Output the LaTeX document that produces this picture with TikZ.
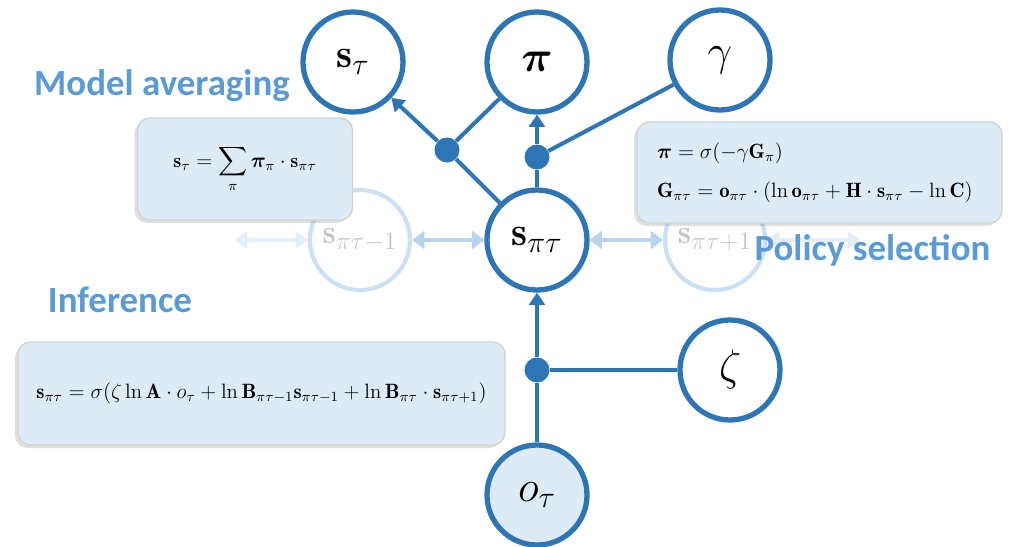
\documentclass[tikz,border=0pt]{standalone}
\usepackage{amsmath,amssymb,bm}
\usepackage{fontspec}
\newfontfamily\headfont{Carlito}
\usetikzlibrary{positioning,arrows.meta,shadows}
\definecolor{nodeblue}{HTML}{2E75B6}
\definecolor{headblue}{HTML}{5B9BD5}
\definecolor{boxblue}{HTML}{DDEBF7}
\definecolor{fadeblue}{HTML}{B8D3EC}
\definecolor{faintblue}{HTML}{E4EEF8}
\newcommand{\sv}{\mathbf{s}}

\begin{document}
\begin{tikzpicture}[auto,on grid,
    vertex/.style={draw=nodeblue,circle,line width=3pt,minimum size=2cm,inner sep=0pt,fill=white,font=\fontsize{23}{27}\selectfont},
    ghost/.style={draw=fadeblue!70,circle,line width=2.4pt,minimum size=2cm,inner sep=0pt,text=gray!45,font=\fontsize{19}{23}\selectfont},
    junction/.style={circle,fill=nodeblue,minimum size=0.5cm,inner sep=0pt},
    link/.style={draw=nodeblue,line width=2.3pt},
    tip/.style={-{Triangle[length=7pt,width=9pt]}},
    eqbox/.style={rounded corners=0.25cm,fill=boxblue,draw=gray!35,line width=0.8pt,
        drop shadow={opacity=0.25,shadow xshift=-0.6mm,shadow yshift=-0.6mm}},
    heading/.style={text=headblue,font=\headfont\bfseries\fontsize{21}{25}\selectfont}]
    \useasboundingbox (0,0) rectangle (20.22,-10.94);
    \node[vertex] (spt) at (10.74,-4.8) {$\sv_{\pi\tau}$};
    \node[ghost, left=3.54cm of spt] (sprev) {$\sv_{\pi\tau-1}$};
    \node[ghost, right=3.56cm of spt] (snext) {$\sv_{\pi\tau+1}$};
    \coordinate[left=2.5cm of sprev] (farleft);
    \coordinate[right=2.9cm of snext] (farright);
    \path[line width=2.2pt, {Triangle[length=7pt,width=10pt]}-{Triangle[length=7pt,width=10pt]}]
        (farleft) edge[draw=faintblue] (sprev)
        (sprev) edge[draw=fadeblue] (spt)
        (spt) edge[draw=fadeblue] (snext)
        (snext) edge[draw=faintblue] (farright);
    % equation boxes
    \node[eqbox, minimum width=4.3cm, minimum height=2.04cm, font=\fontsize{11.5}{20}\selectfont] (avgbox) at (4.9,-3.38)
        {$\displaystyle \sv_{\tau}=\sum_{\pi}\bm{\pi}_{\pi}\cdot\sv_{\pi\tau}$};
    \node[eqbox, minimum width=7.3cm, minimum height=2.02cm, text width=6.5cm, inner xsep=0.4cm, align=left,
        font=\fontsize{11.8}{22}\selectfont] (polbox) at (16.39,-3.45)
        {$\bm{\pi}=\sigma(-\gamma\mathbf{G}_{\pi})$\\
         $\mathbf{G}_{\pi\tau}=\mathbf{o}_{\pi\tau}\cdot(\ln\mathbf{o}_{\pi\tau}+\mathbf{H}\cdot\sv_{\pi\tau}-\ln\mathbf{C})$};
    \node[eqbox, minimum width=9.74cm, minimum height=2.06cm, font=\fontsize{11.8}{20}\selectfont] (infbox) at (5.23,-7.87)
        {$\sv_{\pi\tau}=\sigma(\zeta\ln\mathbf{A}\cdot o_{\tau}+\ln\mathbf{B}_{\pi\tau-1}\sv_{\pi\tau-1}+\ln\mathbf{B}_{\pi\tau}\cdot\sv_{\pi\tau+1})$};
    % graph
    \node[vertex, above=3.56cm of spt] (pi) {$\bm{\pi}$};
    \node[vertex, above left=3.56cm and 3.68cm of spt] (st) {$\sv_{\tau}$};
    \node[vertex, above right=3.6cm and 3.66cm of spt] (gamma) {$\gamma$};
    \node[vertex, below right=2.6cm and 3.86cm of spt] (zeta) {$\zeta$};
    \node[vertex, fill=boxblue, below=5.1cm of spt] (ot) {$o_{\tau}$};
    \node[junction, above left=1.8cm and 1.8cm of spt] (jst) {};
    \node[junction, above=1.66cm of spt] (jpi) {};
    \node[junction, below=2.6cm of spt] (jzeta) {};
    \draw[link] (spt) -- (jst);
    \draw[link] (pi) -- (jst);
    \draw[link, tip] (jst) -- (st);
    \draw[link] (spt) -- (jpi);
    \draw[link] (gamma) -- (jpi);
    \draw[link, tip] (jpi) -- (pi);
    \draw[link] (ot) -- (jzeta);
    \draw[link] (zeta) -- (jzeta);
    \draw[link, tip] (jzeta) -- (spt);
    % headings
    \node[heading] (avglabel) at (3.24,-1.72) {Model averaging};
    \node[heading] (pollabel) at (17.45,-5.0) {Policy selection};
    \node[heading] (inflabel) at (2.4,-6.0) {Inference};
\end{tikzpicture}
\end{document}
